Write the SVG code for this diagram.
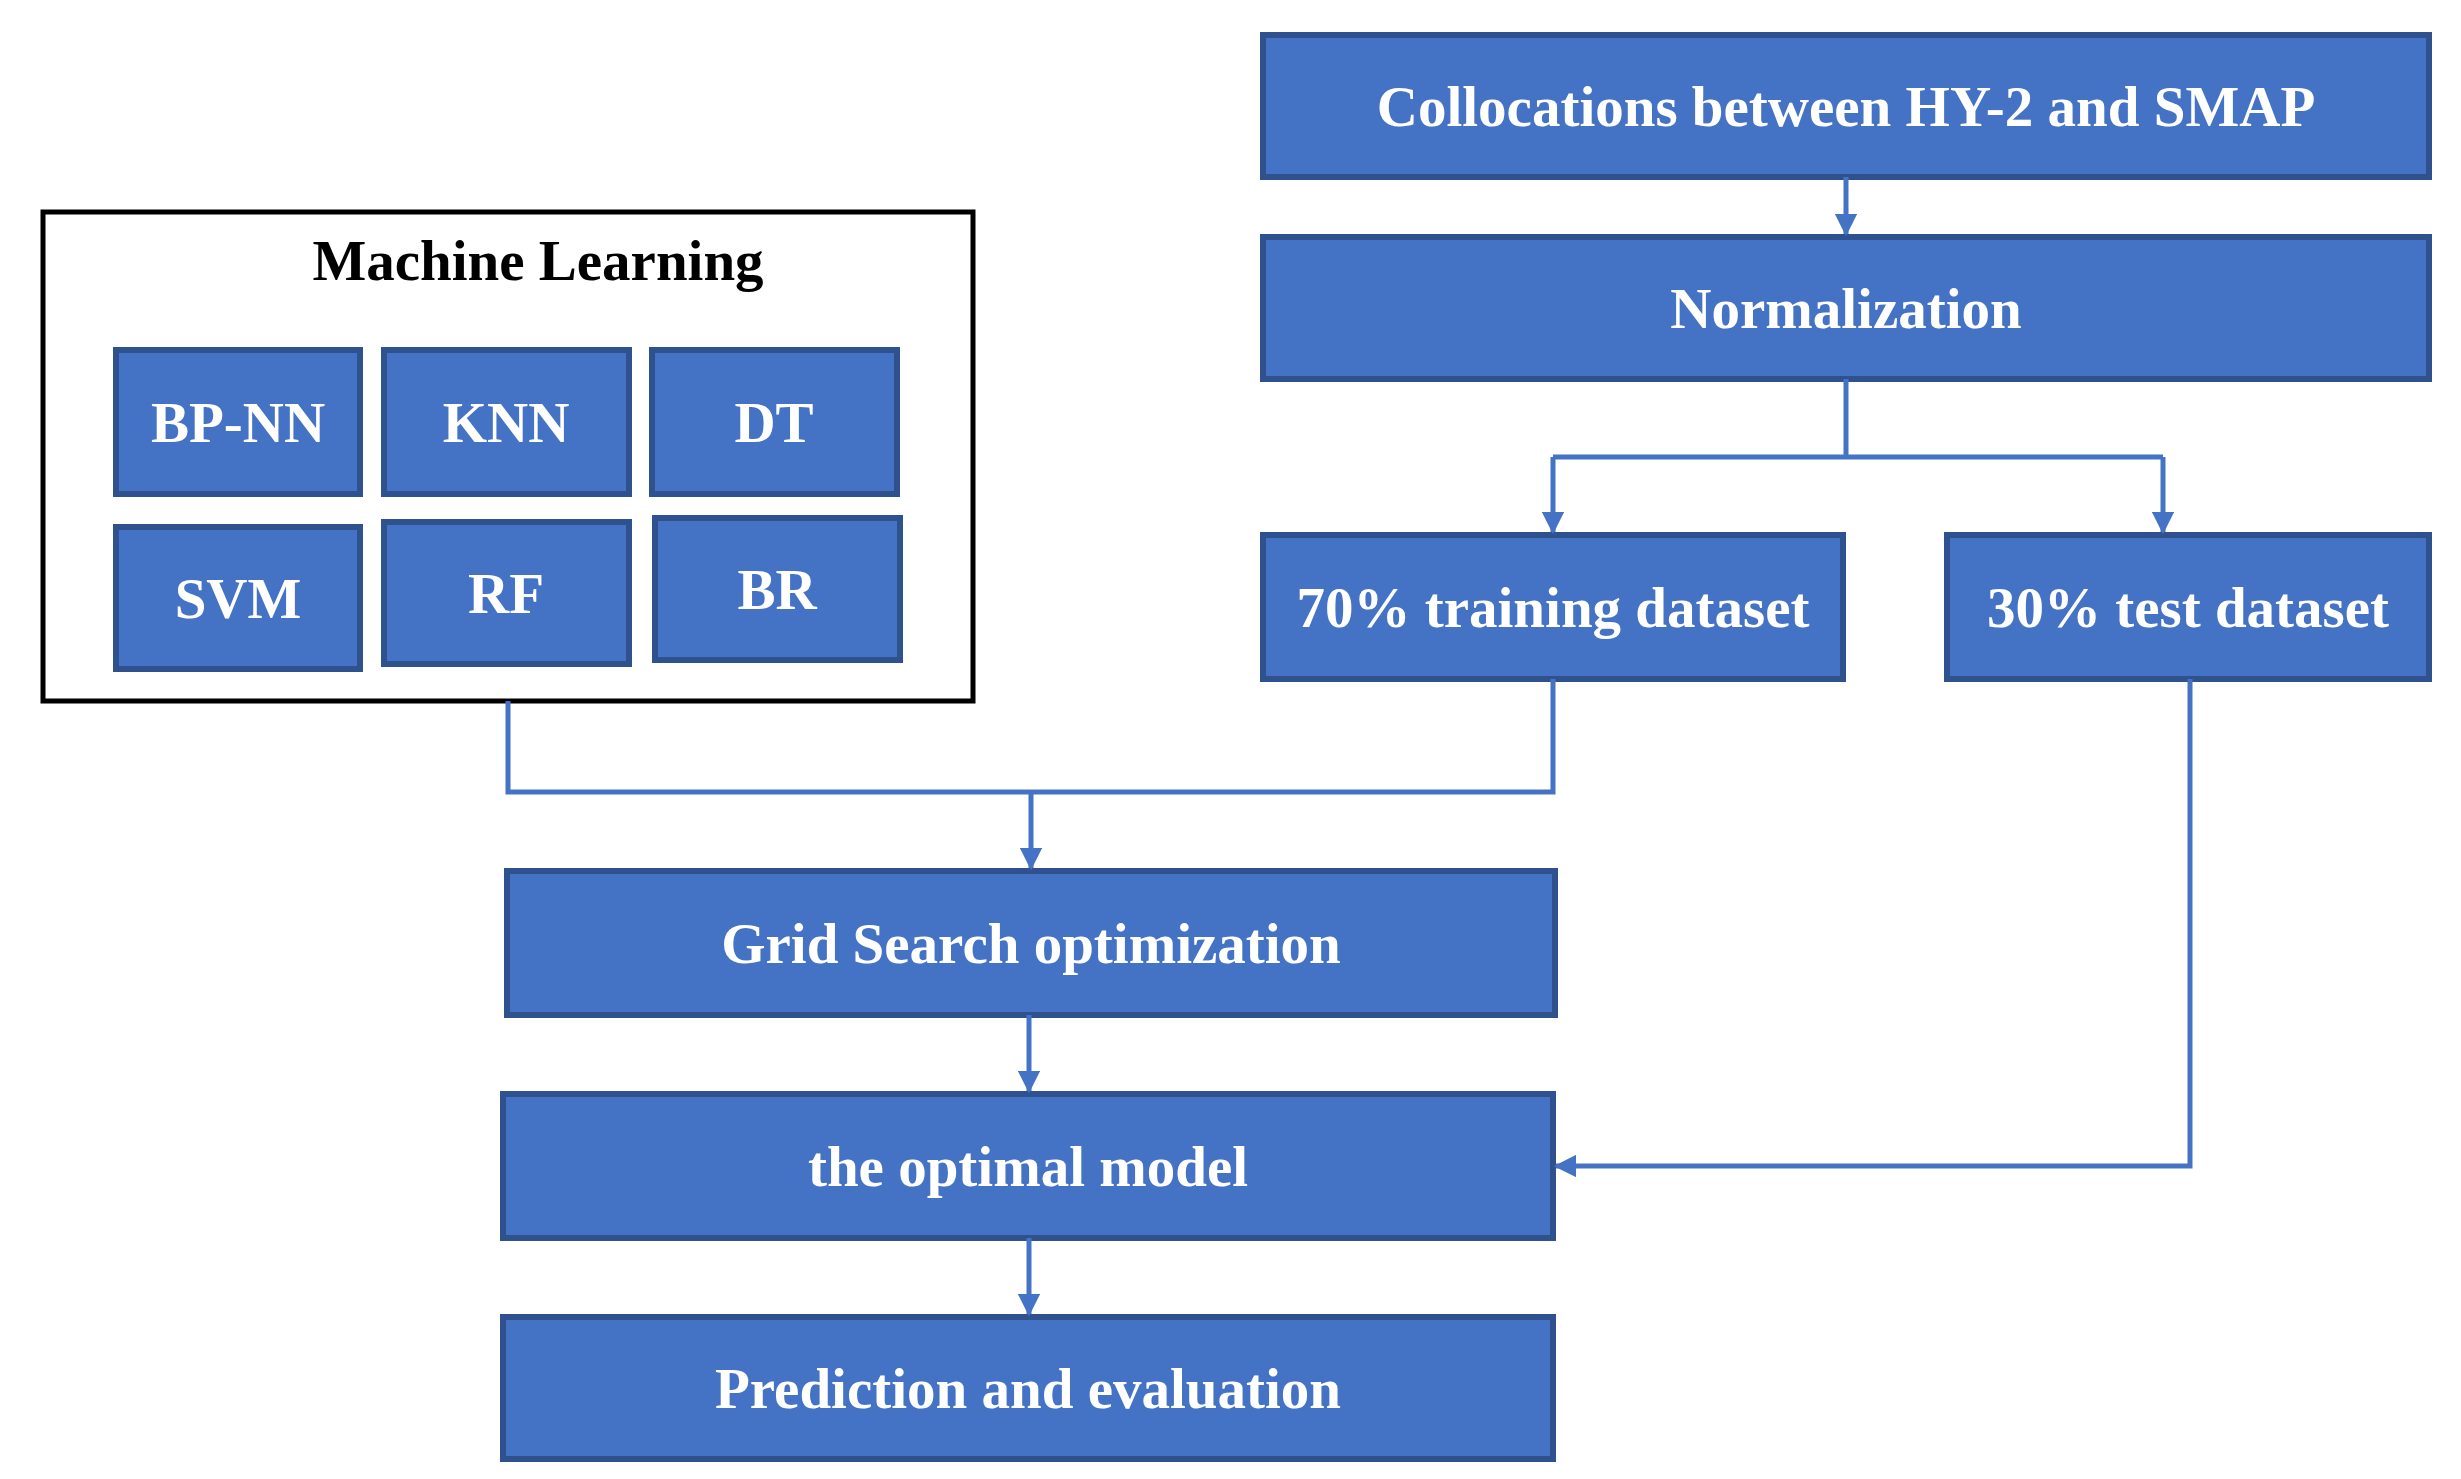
<svg xmlns="http://www.w3.org/2000/svg" width="2461" height="1479" viewBox="0 0 2461 1479">
<defs>
<style>
.b{fill:#4472C4;stroke:#2F528F;stroke-width:6}
.t{fill:#fff;font-family:"Liberation Serif",serif;font-weight:bold;font-size:57px;text-anchor:middle;dominant-baseline:central}
.c{fill:none;stroke:#4472C4;stroke-width:5}
</style>
<marker id="a" viewBox="0 0 10 10" refX="9" refY="5" markerWidth="4.5" markerHeight="4.5" orient="auto"><path d="M0,0L10,5L0,10z" fill="#4472C4"/></marker>
</defs>
<rect width="2461" height="1479" fill="#fff"/>
<g id="ml"><rect x="43" y="212" width="930" height="489" fill="none" stroke="#000" stroke-width="5"/>
<text x="538" y="260" class="t" style="fill:#000">Machine Learning</text></g>
<g id="bpnn"><rect class="b" x="116" y="350" width="244" height="144"/><text class="t" x="238" y="422">BP-NN</text></g>
<g id="knn"><rect class="b" x="384" y="350" width="245" height="144"/><text class="t" x="506" y="422">KNN</text></g>
<g id="dt"><rect class="b" x="652" y="350" width="245" height="144"/><text class="t" x="774" y="422">DT</text></g>
<g id="svm"><rect class="b" x="116" y="527" width="244" height="142"/><text class="t" x="238" y="598">SVM</text></g>
<g id="rf"><rect class="b" x="384" y="522" width="245" height="142"/><text class="t" x="506" y="593">RF</text></g>
<g id="br"><rect class="b" x="655" y="518" width="245" height="142"/><text class="t" x="777" y="589">BR</text></g>
<g id="coll"><rect class="b" x="1263" y="35" width="1166" height="142"/><text class="t" x="1846" y="106">Collocations between HY-2 and SMAP</text></g>
<g id="norm"><rect class="b" x="1263" y="237" width="1166" height="142"/><text class="t" x="1846" y="308">Normalization</text></g>
<g id="train"><rect class="b" x="1263" y="535" width="580" height="144"/><text class="t" x="1553" y="607">70% training dataset</text></g>
<g id="test"><rect class="b" x="1947" y="535" width="482" height="144"/><text class="t" x="2188" y="607">30% test dataset</text></g>
<g id="grid"><rect class="b" x="507" y="871" width="1048" height="144"/><text class="t" x="1031" y="943">Grid Search optimization</text></g>
<g id="opt"><rect class="b" x="503" y="1094" width="1050" height="144"/><text class="t" x="1028" y="1166">the optimal model</text></g>
<g id="pred"><rect class="b" x="503" y="1317" width="1050" height="142"/><text class="t" x="1028" y="1388">Prediction and evaluation</text></g>
<g id="connectors">
<path class="c" d="M1846,177V234" marker-end="url(#a)"/>
<path class="c" d="M1846,379V457"/>
<path class="c" d="M1553,457H2163"/>
<path class="c" d="M1553,457V532" marker-end="url(#a)"/>
<path class="c" d="M2163,457V532" marker-end="url(#a)"/>
<path class="c" d="M508,701V792H1553V679"/>
<path class="c" d="M1031,792V868" marker-end="url(#a)"/>
<path class="c" d="M1029,1015V1091" marker-end="url(#a)"/>
<path class="c" d="M1029,1238V1314" marker-end="url(#a)"/>
<path class="c" d="M2190,679V1166H1556" marker-end="url(#a)"/>
</g>
</svg>
